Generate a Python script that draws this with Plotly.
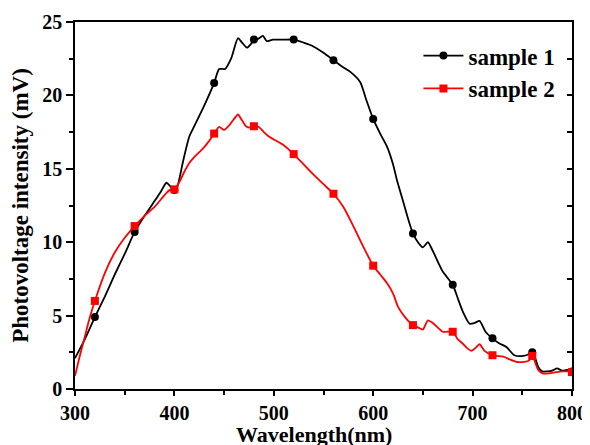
import plotly.graph_objects as go

# ---- data ----
wl1 = [300,310,320,330,340,350,360,370,380,386,392,396,400,403,409,415,420,430,440,
       445,451,457,464,468,473,477,480,484,489,493,499,510,520,530,538,550,560,570,577,
       587,593,600,607,614,620,624,630,636,640,645,650,655,660,670,680,685,690,697,702,
       707,713,720,727,734,742,751,756,760,763,766,770,775,780,785,790,795,800]
v1 = [2.1,3.4,4.9,6.3,7.8,9.2,10.7,11.8,12.8,13.4,14.05,13.8,13.55,13.8,15.6,17.2,17.9,19.3,20.85,
      21.8,21.8,22.5,23.9,23.6,23.25,23.5,23.8,23.85,24.05,23.7,23.8,23.8,23.8,23.6,23.4,22.9,22.4,21.9,21.6,
      20.9,19.7,18.4,17.4,16.5,15.3,14.2,12.8,11.4,10.6,10.0,9.65,10.0,9.4,8.0,7.1,6.2,5.3,4.45,4.5,
      4.64,3.9,3.45,3.1,2.86,2.3,2.25,2.35,2.5,2.1,1.5,1.2,1.2,1.25,1.4,1.25,1.3,1.2]

wl2 = [300,305,310,315,320,330,340,350,360,370,380,390,395,400,405,410,415,420,429,435,
       440,445,450,455,460,464,468,472,476,480,485,490,495,500,510,520,530,540,550,560,
       570,580,590,600,607,614,620,625,632,640,645,650,655,660,670,680,685,690,695,699,
       703,707,712,720,731,738,745,752,757,760,763,766,771,780,790,800]
v2 = [0.9,2.3,3.6,4.9,6.0,7.9,9.3,10.3,11.1,11.8,12.4,13.2,13.55,13.6,14.1,14.8,15.4,15.8,16.4,16.9,
      17.4,17.85,17.65,17.95,18.4,18.7,18.3,17.9,17.8,17.9,17.85,17.5,17.2,17.0,16.6,16.0,15.3,14.6,13.95,13.3,
      12.4,11.1,9.7,8.4,7.8,7.2,6.5,5.6,4.9,4.35,4.2,4.05,4.68,4.5,3.9,3.9,3.4,3.1,2.75,2.6,
      2.8,3.05,2.6,2.3,2.2,2.0,1.84,1.85,1.95,2.3,1.8,1.3,1.05,1.1,1.2,1.2]

mk_x = [320,360,400,440,480,520,560,600,640,680,720,760,800]
mk1 = [4.9,10.7,13.55,20.85,23.8,23.8,22.4,18.4,10.6,7.1,3.45,2.5,1.2]
mk2 = [6.0,11.1,13.6,17.4,17.9,16.0,13.3,8.4,4.35,3.9,2.3,2.25,1.15]

names = ["sample 1", "sample 2"]
colors = ["#000000", "#ff0000"]
x_title = "Wavelength(nm)"
y_title = "Photovoltage intensity (mV)"

FONT = "Liberation Serif, Times New Roman, serif"
FS = 20

fig = go.Figure()

series = [(wl1, v1, mk1, "circle"), (wl2, v2, mk2, "square")]
for (wl, v, mk, sym), name, col in zip(series, names, colors):
    fig.add_trace(go.Scatter(x=wl, y=v, mode="lines", showlegend=False,
                             line=dict(color=col, width=1.8, shape="spline", smoothing=0.6),
                             hoverinfo="skip"))
    fig.add_trace(go.Scatter(x=mk_x, y=mk, mode="markers", showlegend=False,
                             marker=dict(color=col, size=8, symbol=sym)))
    # legend proxy
    fig.add_trace(go.Scatter(x=[None], y=[None], mode="lines+markers", name=name,
                             line=dict(color=col, width=1.8),
                             marker=dict(color=col, size=8, symbol=sym)))

axis_common = dict(showgrid=False, zeroline=False, showline=True, linecolor="black",
                   linewidth=1.5, tickcolor="black", tickwidth=1.5, automargin=False,
                   tickfont=dict(family=FONT, size=FS, color="black", weight="bold"))

# page body adds an 8px offset; the figure is sized so the plot lands where the reference has it
fig.update_layout(
    width=582, height=437,
    margin=dict(l=67, r=18, t=14, b=56),
    paper_bgcolor="white", plot_bgcolor="white",
    font=dict(family=FONT, color="black"),
    xaxis=dict(range=[300, 800], tickvals=[300, 400, 500, 600, 700, 800],
               ticks="outside", ticklen=5, mirror=True,
               minor=dict(tickvals=[350, 450, 550, 650, 750], ticks="outside", ticklen=4,
                          tickcolor="black", tickwidth=1.5),
               **axis_common),
    yaxis=dict(range=[0, 25], tickvals=[0, 5, 10, 15, 20, 25],
               ticks="outside", ticklen=7, mirror=True,
               minor=dict(tickvals=[2.5, 7.5, 12.5, 17.5, 22.5], ticks="outside", ticklen=4,
                          tickcolor="black", tickwidth=1.5),
               title=dict(text=y_title, standoff=15,
                          font=dict(family=FONT, size=23, color="black", weight="bold")),
               **axis_common),
    yaxis2=dict(range=[0, 25], overlaying="y", side="right", showgrid=False, zeroline=False,
                showline=False, showticklabels=False, tickvals=[0, 5, 10, 15, 20, 25],
                ticks="inside", ticklen=5, tickcolor="black", tickwidth=1.5, automargin=False,
                minor=dict(tickvals=[2.5, 7.5, 12.5, 17.5, 22.5], ticks="inside", ticklen=5,
                           tickcolor="black", tickwidth=1.5)),
    legend=dict(x=0.691, y=0.967, xanchor="left", yanchor="top", bgcolor="rgba(0,0,0,0)",
                font=dict(family=FONT, size=23, color="black", weight="bold"),
                tracegroupgap=0, itemwidth=40),
    annotations=[dict(text=x_title, xref="paper", yref="paper", x=0.481, y=-0.085,
                      xanchor="center", yanchor="top", showarrow=False,
                      font=dict(family=FONT, size=22, color="black", weight="bold"))],
)

# invisible trace to activate yaxis2 ticks
fig.add_trace(go.Scatter(x=[None], y=[None], yaxis="y2", showlegend=False, hoverinfo="skip"))

fig.write_html("out.html")
